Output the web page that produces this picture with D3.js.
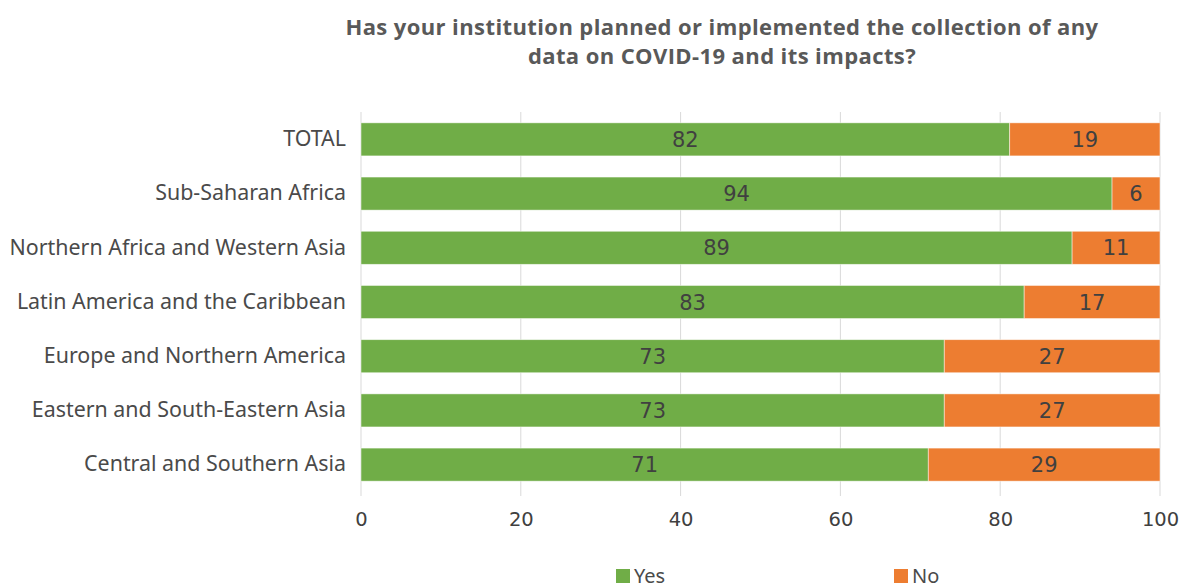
<!DOCTYPE html>
<html>
<head>
<meta charset="utf-8">
<script src="https://cdn.jsdelivr.net/npm/d3@7"></script>
<style>
  html, body { margin: 0; padding: 0; background: #fff; }
  svg { display: block; }
</style>
</head>
<body>
<svg id="chart" width="1184" height="588"></svg>
<script>
// Regions, top to bottom
const categories = [
  "TOTAL",
  "Sub-Saharan Africa",
  "Northern Africa and Western Asia",
  "Latin America and the Caribbean",
  "Europe and Northern America",
  "Eastern and South-Eastern Asia",
  "Central and Southern Asia"
];
const yesValues = [82, 94, 89, 83, 73, 73, 71];
const noValues  = [19, 6, 11, 17, 27, 27, 29];
const seriesNames = ["Yes", "No"];
const seriesColors = ["#70AD47", "#ED7D31"];
const xTicks = [0, 20, 40, 60, 80, 100];
const titleLines = [
  "Has your institution planned or implemented the collection of any",
  "data on COVID-19 and its impacts?"
];

const svg = d3.select("#chart");
const margin = { left: 361, right: 24, top: 112, bottom: 96 };
const width = 1184, height = 588;

const rows = categories.map((c, i) => ({ cat: c, Yes: yesValues[i], No: noValues[i] }));
// Each row is shown as a share of its total (100% stacked)
const stacked = d3.stack().keys(seriesNames).offset(d3.stackOffsetExpand)(rows);

const x = d3.scaleLinear().domain([0, 100]).range([margin.left, width - margin.right]);
const y = d3.scaleBand().domain(categories)
  .range([margin.top, height - margin.bottom]).paddingInner(0.39).paddingOuter(0.2);

const textColor = "#404040";
const font = "'Noto Sans', 'Open Sans', sans-serif";
const numFont = "'DejaVu Sans', sans-serif";

// Title
svg.append("g").selectAll("text").data(titleLines).join("text")
  .attr("x", 722).attr("y", (d, i) => 35 + i * 29)
  .attr("text-anchor", "middle")
  .attr("font-family", "'Open Sans', sans-serif")
  .attr("font-weight", 700).attr("font-size", 22)
  .attr("letter-spacing", 0.4)
  .attr("fill", "#595959")
  .text(d => d);

// Vertical gridlines
svg.append("g").selectAll("line").data(xTicks).join("line")
  .attr("x1", d => x(d)).attr("x2", d => x(d))
  .attr("y1", margin.top).attr("y2", height - margin.bottom + 4)
  .attr("stroke", "#d9d9d9").attr("stroke-width", 1);

// X axis tick labels
const xAxis = d3.axisBottom(x).tickValues(xTicks).tickSize(0).tickPadding(0);
const xg = svg.append("g").attr("transform", `translate(0,${height - margin.bottom + 28})`).call(xAxis);
xg.select(".domain").remove();
xg.selectAll("text")
  .attr("font-family", numFont).attr("font-size", 19.5).attr("fill", textColor)
  .attr("dy", "0.32em");

// Y axis category labels
const yAxis = d3.axisLeft(y).tickSize(0).tickPadding(15);
const yg = svg.append("g").attr("transform", `translate(${margin.left},0)`).call(yAxis);
yg.select(".domain").remove();
yg.selectAll("text")
  .attr("font-family", font).attr("font-size", 21.4).attr("fill", "#4a4a4a");

// Bars
const layers = svg.append("g").selectAll("g").data(stacked).join("g")
  .attr("fill", (d, i) => seriesColors[i]);
layers.selectAll("rect").data(d => d).join("rect")
  .attr("x", d => x(d[0] * 100))
  .attr("width", d => x(d[1] * 100) - x(d[0] * 100))
  .attr("y", d => y(d.data.cat))
  .attr("height", y.bandwidth())
  .attr("stroke", "#ffffff").attr("stroke-width", 0.8).attr("stroke-opacity", 0.6);

// Value labels
const labels = svg.append("g");
stacked.forEach(layer => {
  labels.selectAll(null).data(layer).join("text")
    .attr("x", d => (x(d[0] * 100) + x(d[1] * 100)) / 2)
    .attr("y", d => y(d.data.cat) + y.bandwidth() / 2)
    .attr("dy", "0.36em")
    .attr("text-anchor", "middle")
    .attr("font-family", numFont).attr("font-size", 21).attr("fill", textColor)
    .text(d => d.data[layer.key]);
});

// Legend
const legendX = [616, 894];
const legend = svg.append("g").selectAll("g").data(seriesNames).join("g")
  .attr("transform", (d, i) => `translate(${legendX[i]},569)`);
legend.append("rect").attr("width", 14).attr("height", 14)
  .attr("fill", (d, i) => seriesColors[i]);
legend.append("text").attr("x", 18).attr("y", 7)
  .attr("dy", "0.36em")
  .attr("font-family", font).attr("font-size", 20).attr("fill", "#4a4a4a")
  .text(d => d);
</script>
</body>
</html>
